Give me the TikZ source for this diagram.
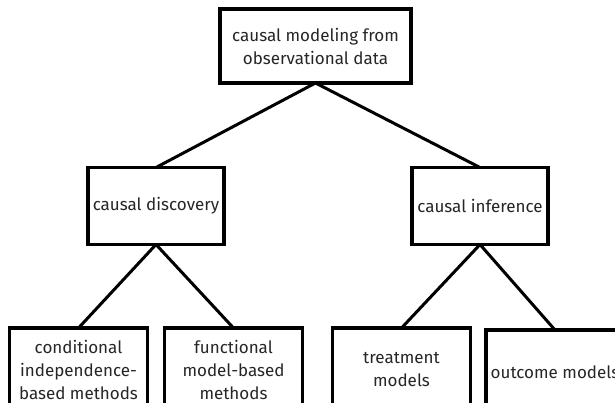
\documentclass[tikz,border=0pt]{standalone}
\usepackage{fontspec}
\setmainfont{Fira Sans}
\begin{document}
\begin{tikzpicture}[x=1pt,y=-1pt,
  box/.style={draw=black, line width=3.6pt, fill=white, align=center,
    inner sep=0pt, outer sep=0pt, text=black!85,
    font=\fontsize{17}{23}\selectfont},
  topbox/.style={box, minimum width=191pt, minimum height=74pt},
  midbox/.style={box, minimum width=136pt, minimum height=77pt},
  leafbox/.style={box, minimum width=138pt, minimum height=84pt},
  link/.style={draw=black, line width=3pt}]
\useasboundingbox (0,0) rectangle (615,403);
% tree of boxes
\node[topbox] (root) at (315.5,46) {causal modeling from\\observational data};
\node[midbox] (disc) at (156,206) {causal discovery};
\node[midbox] (inf)  at (480,206) {causal inference};
\node[leafbox] (cond)  at (78.5,370)  {conditional\\independence-\\based methods};
\node[leafbox] (func)  at (233.5,370) {functional\\model-based\\methods};
\node[leafbox] (treat) at (401.5,370) {treatment\\models};
\node[leafbox] (outc)  at (555,372)   {outcome models};
% connectors
\draw[link] (root.south) -- (disc.north);
\draw[link] (root.south) -- (inf.north);
\draw[link] (disc.south) -- (cond.north);
\draw[link] (disc.south) -- (func.north);
\draw[link] (inf.south) -- (treat.north);
\draw[link] (inf.south) -- (outc.north);
\end{tikzpicture}
\end{document}
